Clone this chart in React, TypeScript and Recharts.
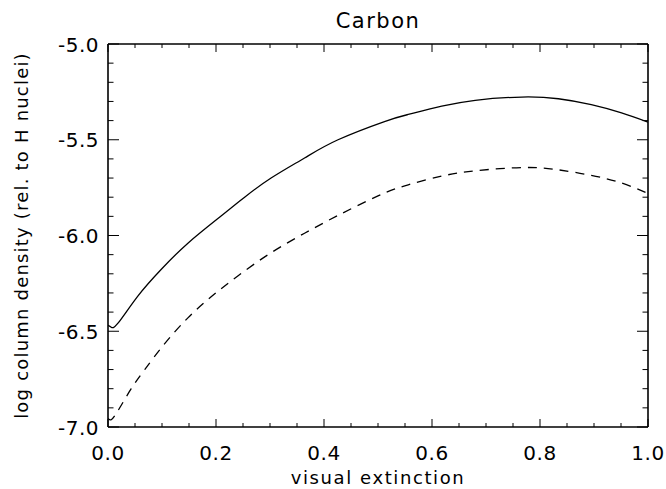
import { LineChart, Line, XAxis, YAxis } from "recharts";

// solid curve (upper)
const solidX = [
  0, 0.006, 0.0185, 0.0556, 0.0988, 0.148, 0.21, 0.253, 0.302, 0.364, 0.426,
  0.512, 0.556, 0.618, 0.68, 0.766, 0.834, 0.895, 0.951, 1.0,
];
const solidY = [
  -6.469, -6.479, -6.458, -6.315, -6.176, -6.04, -5.897, -5.8, -5.7, -5.595,
  -5.5, -5.405, -5.368, -5.325, -5.294, -5.277, -5.286, -5.317, -5.36, -5.408,
];

// dashed curve (lower)
const dashedX = [
  0, 0.006, 0.0185, 0.043, 0.068, 0.105, 0.148, 0.191, 0.241, 0.302, 0.364,
  0.426, 0.5, 0.556, 0.618, 0.68, 0.772, 0.834, 0.895, 0.951, 1.0,
];
const dashedY = [
  -6.955, -6.962, -6.915, -6.8, -6.7, -6.565, -6.43, -6.32, -6.21, -6.09,
  -5.988, -5.895, -5.793, -5.735, -5.69, -5.662, -5.645, -5.657, -5.686, -5.726,
  -5.78,
];

const xMajor = [0, 0.2, 0.4, 0.6, 0.8, 1.0];
const xTicks = [
  0, 0.05, 0.1, 0.15, 0.2, 0.25, 0.3, 0.35, 0.4, 0.45, 0.5, 0.55, 0.6, 0.65,
  0.7, 0.75, 0.8, 0.85, 0.9, 0.95, 1.0,
];
const yMajor = [-7.0, -6.5, -6.0, -5.5, -5.0];
const yTicks = [
  -7.0, -6.9, -6.8, -6.7, -6.6, -6.5, -6.4, -6.3, -6.2, -6.1, -6.0, -5.9, -5.8,
  -5.7, -5.6, -5.5, -5.4, -5.3, -5.2, -5.1, -5.0,
];

const solidData = solidX.map((x, i) => ({ x, y: solidY[i] }));
const dashedData = dashedX.map((x, i) => ({ x, y: dashedY[i] }));

const font = "'DejaVu Sans', sans-serif";
const isMajor = (list: number[], v: number) =>
  list.some((m) => Math.abs(m - v) < 1e-6);

function BottomTick({ x, y, payload }: any) {
  const major = isMajor(xMajor, payload.value);
  return (
    <g>
      <line x1={x} x2={x} y1={y} y2={y - (major ? 8 : 4)} stroke="#000" />
      {major && (
        <text
          x={x}
          y={y + 33}
          textAnchor="middle"
          fontSize={20}
          letterSpacing={0.5}
          fontFamily={font}
          fill="#000"
        >
          {payload.value.toFixed(1)}
        </text>
      )}
    </g>
  );
}

function TopTick({ x, y, payload }: any) {
  const major = isMajor(xMajor, payload.value);
  return <line x1={x} x2={x} y1={y} y2={y + (major ? 8 : 4)} stroke="#000" />;
}

function LeftTick({ x, y, payload }: any) {
  const major = isMajor(yMajor, payload.value);
  return (
    <g>
      <line x1={x} x2={x + (major ? 11 : 5.5)} y1={y} y2={y} stroke="#000" />
      {major && (
        <text
          x={x - 9}
          y={y + 7.5}
          textAnchor="end"
          fontSize={20}
          letterSpacing={0.5}
          fontFamily={font}
          fill="#000"
        >
          {payload.value.toFixed(1)}
        </text>
      )}
    </g>
  );
}

function RightTick({ x, y, payload }: any) {
  const major = isMajor(yMajor, payload.value);
  return <line x1={x} x2={x - (major ? 11 : 5.5)} y1={y} y2={y} stroke="#000" />;
}

export default function App() {
  return (
    <div style={{ position: "absolute", left: 0, top: 0, background: "#fff" }}>
      <LineChart
        width={666}
        height={489}
        margin={{ top: 43, right: 17, bottom: 32, left: 48 }}
      >
        <text
          x={378}
          y={28}
          textAnchor="middle"
          fontSize={21}
          letterSpacing={1.5}
          fontFamily={font}
          fill="#000"
        >
          Carbon
        </text>
        <text
          x={378}
          y={484}
          textAnchor="middle"
          fontSize={18}
          letterSpacing={1.6}
          fontFamily={font}
          fill="#000"
        >
          visual extinction
        </text>
        <text
          x={28}
          y={235.5}
          transform="rotate(-90 28 235.5)"
          textAnchor="middle"
          fontSize={18}
          letterSpacing={1.2}
          fontFamily={font}
          fill="#000"
        >
          log column density (rel. to H nuclei)
        </text>
        <XAxis
          xAxisId="b"
          dataKey="x"
          type="number"
          domain={[0, 1]}
          ticks={xTicks}
          interval={0}
          height={30}
          tickSize={0}
          tickMargin={0}
          tick={<BottomTick />}
          tickLine={false}
          axisLine={{ stroke: "#000", strokeWidth: 1.6 }}
          allowDataOverflow
        />
        <XAxis
          xAxisId="t"
          orientation="top"
          dataKey="x"
          type="number"
          domain={[0, 1]}
          ticks={xTicks}
          interval={0}
          height={1}
          tickSize={0}
          tickMargin={0}
          tick={<TopTick />}
          tickLine={false}
          axisLine={{ stroke: "#000", strokeWidth: 1.6 }}
          allowDataOverflow
        />
        <YAxis
          yAxisId="l"
          type="number"
          domain={[-7, -5]}
          ticks={yTicks}
          interval={0}
          width={60}
          tickSize={0}
          tickMargin={0}
          tick={<LeftTick />}
          tickLine={false}
          axisLine={{ stroke: "#000", strokeWidth: 1.6 }}
          allowDataOverflow
        />
        <YAxis
          yAxisId="r"
          orientation="right"
          type="number"
          domain={[-7, -5]}
          ticks={yTicks}
          interval={0}
          width={1}
          tickSize={0}
          tickMargin={0}
          tick={<RightTick />}
          tickLine={false}
          axisLine={{ stroke: "#000", strokeWidth: 1.6 }}
          allowDataOverflow
        />
        <Line
          xAxisId="b"
          yAxisId="l"
          data={solidData}
          type="natural"
          dataKey="y"
          stroke="#000"
          strokeWidth={1.3}
          dot={false}
          isAnimationActive={false}
        />
        <Line
          xAxisId="b"
          yAxisId="l"
          data={dashedData}
          type="natural"
          dataKey="y"
          stroke="#000"
          strokeWidth={1.3}
          strokeDasharray="9 7"
          dot={false}
          isAnimationActive={false}
        />
      </LineChart>
    </div>
  );
}
